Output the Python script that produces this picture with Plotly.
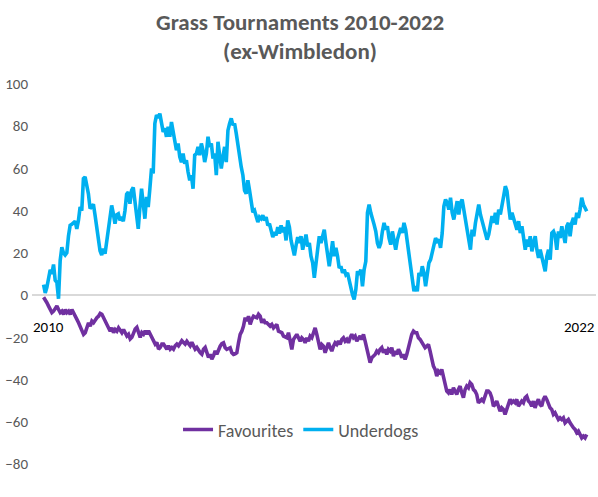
import numpy as np
import plotly.graph_objects as go

# ---- data (cumulative P/L) ----
series_names = ["Favourites", "Underdogs"]
start_label = "2010"
end_label = "2022"
title_lines = ["Grass Tournaments 2010-2022", "(ex-Wimbledon)"]
y_ticks = [-80, -60, -40, -20, 0, 20, 40, 60, 80, 100]

favourites = [
    -1.0,
    -2.0, -3.6, -5.2, -6.8, -8.3, -7.6, -6.0, -5.2, -6.8, -8.3,
    -7.6, -9.1, -6.8, -8.3, -7.6, -9.1, -6.8, -8.3, -9.1, -11.5,
    -13.1, -14.7, -16.3, -18.6, -17.8, -15.5, -13.1, -14.7, -12.3, -13.1,
    -11.5, -10.7, -10.0, -8.7, -9.1, -10.7, -13.1, -14.7, -16.3, -17.1,
    -15.5, -17.8, -16.3, -17.1, -15.5, -17.1, -17.8, -16.3, -17.8, -19.4,
    -18.6,
    -20.8, -20.0, -17.7, -16.1, -15.3, -18.5, -20.0, -17.7, -18.5, -16.9,
    -18.5, -16.9, -18.5, -20.0, -21.6, -23.2, -22.4, -25.6, -24.8, -23.2,
    -23.2, -24.8, -25.6, -24.0, -25.6, -24.8, -25.6, -24.0, -23.2, -24.0,
    -22.4, -21.6, -22.4, -23.2, -21.9, -23.2, -24.0, -22.4, -24.0, -25.6,
    -24.8, -26.4, -27.2, -28.0, -25.6, -24.8, -28.0, -29.5, -28.0, -30.3,
    -28.8, -26.4, -28.0, -25.6,
    -24.2, -23.0, -22.6, -24.9, -25.7, -25.3, -24.9, -27.3, -28.1, -27.8,
    -27.3, -22.6, -18.6, -17.1, -14.7, -10.7, -12.3, -10.0, -13.9, -11.5,
    -10.0, -10.4, -10.7, -9.1, -10.0, -13.1, -11.5, -13.1, -13.1, -13.9,
    -14.7, -13.9, -15.5, -14.7, -13.9, -17.1, -17.4, -17.8, -19.4, -19.8,
    -20.2, -17.8, -21.8, -25.7, -21.0, -19.4, -18.6, -20.2, -21.8, -20.2,
    -21.0, -22.6, -20.2, -21.8, -19.4, -20.2, -17.8, -15.5, -18.6, -22.6,
    -25.7, -23.4, -24.2, -27.3, -24.9, -22.6, -24.9, -26.5, -24.2, -22.6,
    -23.4, -21.8, -23.4, -21.0, -20.2, -21.8, -21.0, -22.6, -20.2, -18.6,
    -20.2, -19.4, -21.8, -20.2, -19.4, -21.0, -18.6, -21.8, -25.7, -28.9,
    -32.0, -29.7, -28.9, -28.1, -26.5, -27.3, -25.7, -24.9, -27.3, -25.7,
    -28.1, -25.7, -26.5, -24.9, -28.9, -26.5, -28.1, -25.7, -27.3, -29.7,
    -28.1, -30.5, -28.1, -24.9, -21.8, -18.6, -17.1, -17.8, -17.8, -20.2,
    -21.0, -22.6, -24.2, -24.9, -24.2, -23.4, -26.5, -30.5, -33.6, -35.2,
    -38.4, -36.0, -36.8, -35.2, -39.1, -43.1, -45.5, -46.3, -44.7, -47.1,
    -43.9, -45.5, -47.1, -44.7, -43.1, -46.3, -48.6, -44.7, -43.1, -43.9,
    -41.5, -42.3, -44.7, -45.5, -47.1, -51.0, -50.2, -49.4, -50.2, -47.9,
    -45.5, -45.5, -46.3, -48.6, -52.6, -51.8, -50.2, -52.6, -55.0, -53.4,
    -54.2, -56.5, -54.2, -51.0, -49.4, -51.0, -50.2, -51.0, -49.4, -52.6,
    -51.0, -50.2, -51.0, -48.6, -47.9, -50.2, -51.0, -52.6, -50.2, -53.4,
    -51.0, -49.4, -51.8, -52.6, -49.4, -47.9, -49.4, -51.8, -53.4, -54.2,
    -56.5, -55.7, -57.3, -58.9, -58.1, -58.9, -58.1, -60.5, -59.7, -58.9,
    -60.5, -62.1, -62.8, -63.6, -65.2, -64.4, -66.0, -67.6, -66.8, -67.6,
    -66.0,
]

underdogs = [
    5.0, 1.0, 3.7, 8.5, 12.0, 10.0, 14.5, 7.0, 6.0, -1.7,
    16.4, 22.7, 20.0, 19.0, 20.0, 28.0, 33.0, 33.5, 34.0, 35.0,
    31.4, 35.4, 41.7, 40.0, 55.2, 56.0, 52.0, 48.0, 41.0, 42.0,
    43.0, 37.8, 32.2, 28.0, 21.0, 19.0, 22.0, 19.6, 25.0, 31.0,
    37.0, 42.5, 38.6, 33.8, 38.0, 38.5, 35.4, 37.0, 35.0, 40.0,
    47.8, 48.8, 43.3, 49.6, 51.0, 45.0, 37.0, 31.4, 41.7, 50.4,
    43.3, 36.2, 46.5, 41.7, 50.4, 60.0, 57.6, 81.3, 85.3, 84.0,
    86.0, 81.3, 77.3, 79.0, 75.0, 79.7,
    75.0, 82.0, 77.3, 73.4, 68.6, 71.8, 65.5, 63.0, 67.0, 62.3,
    63.9, 58.3, 54.4, 56.8, 50.4, 66.3, 67.0, 70.2, 66.3, 71.8,
    68.6, 63.0, 67.0, 75.0, 70.2, 71.8, 64.7, 67.0, 56.8, 72.6,
    67.0, 60.0, 65.5, 70.2, 63.0, 78.0, 81.3, 83.7, 80.5, 81.3,
    76.6, 70.2, 63.9, 60.7, 56.8, 49.6, 48.0, 54.4, 49.6, 45.0,
    39.3, 40.1, 37.8, 34.6, 37.0, 36.2, 37.8, 35.4, 37.0, 33.0,
    33.8, 30.6, 27.5, 29.8, 28.3, 32.2, 29.1, 33.0, 29.8, 32.2,
    25.9, 35.4, 32.2, 25.9, 22.7, 18.8, 23.5, 27.5,
    24.7, 27.9, 21.5, 24.7, 28.7, 23.0, 24.7, 18.4, 15.3, 8.2,
    13.7, 21.5, 27.9, 24.7, 27.9, 31.0, 24.7, 20.0, 13.7, 19.2,
    25.5, 18.4, 22.4, 18.4, 12.9, 13.7, 10.5, 12.1, 9.7, 10.5,
    6.5, 3.4, 0.2, -2.1, 2.6, 11.3, 9.7, 12.1, 4.2, 12.1,
    16.0, 39.0, 42.9, 39.0, 36.6, 33.4, 30.2, 24.7, 22.4, 24.7,
    30.2, 34.2, 31.0, 32.6, 27.0, 23.9, 30.2, 24.7, 21.5, 26.3,
    29.4, 31.8, 29.4, 34.2, 31.0, 24.7, 20.0, 13.7, 8.9, 1.8,
    4.2, 1.8, 10.5, 8.9, 13.7, 10.5, 4.2, 10.5, 15.3, 16.8,
    20.7, 23.0, 27.0, 25.5,
    26.3, 22.4, 29.4, 42.1, 45.3, 43.7, 40.5, 46.1, 39.0, 35.8,
    40.5, 44.5, 38.2, 43.7, 45.3, 39.7, 35.0, 31.0, 26.3,
    21.5, 31.0, 27.9, 34.2, 39.0, 42.9, 38.2, 35.0, 32.6, 28.7,
    26.3, 28.7, 33.4, 37.4, 34.2, 39.0, 33.4, 40.5, 38.2, 43.7,
    46.9, 51.6, 49.2,
    42.1, 35.8, 39.0, 36.6, 34.2, 31.0, 35.0, 29.4, 32.6, 27.9,
    21.5, 26.3, 23.0, 27.9, 20.7, 24.7, 27.9, 21.5, 17.6, 21.5,
    18.4, 16.0, 11.3, 18.4, 21.5, 16.8, 29.4, 30.2, 27.9, 21.5,
    30.2, 27.0, 32.6, 28.7, 24.7, 32.6, 34.2, 27.9, 34.2, 36.6,
    33.4, 39.0, 36.6, 40.5, 46.1, 42.9, 41.3, 39.7,
]

# ---- styles ----
FONT = "Carlito, Calibri, Lato, sans-serif"
GREY = "#595959"
colors = {"Favourites": "#7030A0", "Underdogs": "#00B0F0"}

fig = go.Figure()
for name, vals in zip(series_names, [favourites, underdogs]):
    t = np.linspace(0.0, 1.0, len(vals))  # elapsed share of the 2010-2022 period
    fig.add_trace(go.Scatter(
        x=t, y=vals, mode="lines", name=name,
        line=dict(color=colors[name], width=3.6),
        hoverinfo="skip",
    ))

# period labels just under the zero line
fig.add_annotation(x=0.009, y=-15.2, xref="x", yref="y", text=start_label,
                   showarrow=False, font=dict(family=FONT, size=15, color="#000000"))
fig.add_annotation(x=0.986, y=-15.2, xref="x", yref="y", text=end_label,
                   showarrow=False, font=dict(family=FONT, size=15, color="#000000"))

# two-line bold title (paper y above the plot area)
title_y = [1.163, 1.087]
for line, yy in zip(title_lines, title_y):
    fig.add_annotation(x=0.475, xref="paper", y=yy, yref="paper",
                       text=f"<b>{line}</b>", showarrow=False,
                       xanchor="center", yanchor="middle",
                       font=dict(family=FONT, size=23, color=GREY))

fig.update_layout(
    width=598, height=497,
    paper_bgcolor="white", plot_bgcolor="white",
    margin=dict(l=32, r=2, t=84, b=33),
    font=dict(family=FONT, color=GREY),
    xaxis=dict(range=[-0.0213, 1.0171], showticklabels=False, showgrid=False,
               zeroline=False, showline=False, ticks=""),
    yaxis=dict(range=[-80, 100], tickvals=y_ticks, showgrid=False,
               zeroline=True, zerolinecolor="#D9D9D9", zerolinewidth=1.5,
               showline=False, ticks="", ticklabelstandoff=3,
               tickfont=dict(family=FONT, size=15, color=GREY)),
    legend=dict(orientation="h", x=0.477, y=0.09, xanchor="center", yanchor="middle",
                bgcolor="rgba(0,0,0,0)", font=dict(family=FONT, size=18, color=GREY),
                itemwidth=30),
    showlegend=True,
)

fig.write_html("out.html", config={"displayModeBar": False},
               post_script="document.body.style.margin='0';")
